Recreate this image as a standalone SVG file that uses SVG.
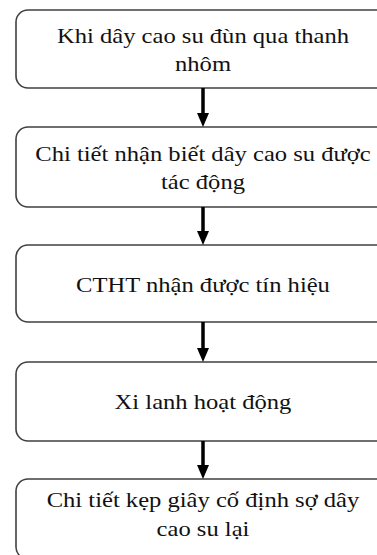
<svg xmlns="http://www.w3.org/2000/svg" width="377" height="555" viewBox="0 0 377 555">
<style>
.box{fill:#fff;stroke:#404040;stroke-width:1.6}
.t{font-family:"Liberation Serif","Times New Roman",serif;font-size:21.5px;fill:#111;text-anchor:middle}
.c{stroke:#000;stroke-width:3.5}
</style>
<rect width="377" height="555" fill="#fff"/>
<g id="n1"><rect class="box" x="16" y="10" width="374" height="78" rx="12"/>
<g transform="translate(203 0) scale(1.144 1)"><text class="t" x="0" y="43">Khi dây cao su đùn qua thanh</text>
<text class="t" x="0" y="71">nhôm</text></g></g>
<g id="n2"><rect class="box" x="16" y="127" width="374" height="80" rx="12"/>
<g transform="translate(203 0) scale(1.144 1)"><text class="t" x="0" y="161">Chi tiết nhận biết dây cao su được</text>
<text class="t" x="0" y="189">tác động</text></g></g>
<g id="n3"><rect class="box" x="16" y="245" width="374" height="77" rx="12"/>
<g transform="translate(203 0) scale(1.144 1)"><text class="t" x="0" y="292">CTHT nhận được tín hiệu</text></g></g>
<g id="n4"><rect class="box" x="16" y="362" width="374" height="79" rx="12"/>
<g transform="translate(203 0) scale(1.144 1)"><text class="t" x="0" y="409">Xi lanh hoạt động</text></g></g>
<g id="n5"><rect class="box" x="16" y="479" width="374" height="80" rx="12"/>
<g transform="translate(203 0) scale(1.144 1)"><text class="t" x="0" y="507">Chi tiết kẹp giây cố định sợ dây</text>
<text class="t" x="0" y="536">cao su lại</text></g></g>
<g id="connectors">
<line class="c" x1="203" y1="88" x2="203" y2="114"/>
<path d="M197,113 L209,113 L203,127 Z"/>
<line class="c" x1="203" y1="207" x2="203" y2="232"/>
<path d="M197,231 L209,231 L203,245 Z"/>
<line class="c" x1="203" y1="322" x2="203" y2="349"/>
<path d="M197,348 L209,348 L203,362 Z"/>
<line class="c" x1="203" y1="441" x2="203" y2="466"/>
<path d="M197,465 L209,465 L203,479 Z"/>
</g>
</svg>
